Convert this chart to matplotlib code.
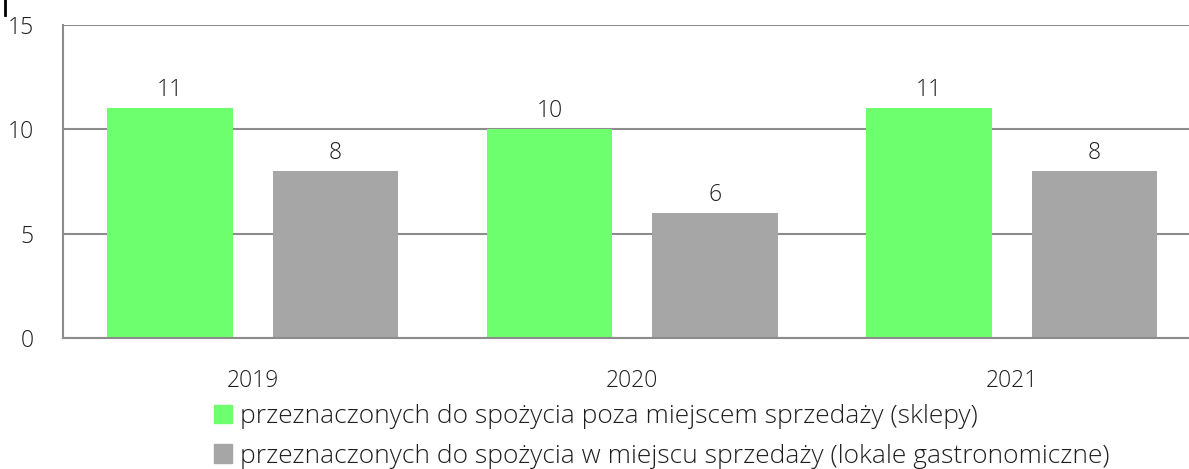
import matplotlib.pyplot as plt
import numpy as np
from matplotlib.patches import Patch
from matplotlib.lines import Line2D

plt.rcParams["font.family"] = ["Open Sans", "DejaVu Sans"]
plt.rcParams["font.weight"] = "light"

years = ["2019", "2020", "2021"]
shops = [11, 10, 11]
gastro = [8, 6, 8]
labels = [
    "przeznaczonych do spożycia poza miejscem sprzedaży (sklepy)",
    "przeznaczonych do spożycia w miejscu sprzedaży (lokale gastronomiczne)",
]

green = "#6EFF6E"
gray = "#A6A6A6"
text = "#1F1F1F"

W, H = 1189, 469
fig = plt.figure(figsize=(W / 100, H / 100), dpi=100)
# axes extend past the right edge of the figure, like the original crop
ax = fig.add_axes([63 / W, 1 - 338 / H, 1138.5 / W, 313 / H])

x = np.arange(len(years))
bw = 0.33
off = 0.218
b1 = ax.bar(x - off, shops, bw, color=green, zorder=2)
b2 = ax.bar(x + off, gastro, bw, color=gray, zorder=2)

for bars, vals in ((b1, shops), (b2, gastro)):
    for r, v in zip(bars, vals):
        ax.text(r.get_x() + r.get_width() / 2, v + 0.3, str(v),
                ha="center", va="bottom", fontsize=16.5, color=text)

ax.set_xlim(-0.5, 2.5)
ax.set_ylim(0, 15)
ax.set_yticks([0, 5, 10, 15])
ax.set_xticks(x)
ax.set_xticklabels(years)
ax.yaxis.grid(True, color="#8C8C8C", linewidth=1.5, zorder=0)
ax.set_axisbelow(True)
for s in ("top", "right"):
    ax.spines[s].set_visible(False)
for s in ("left", "bottom"):
    ax.spines[s].set_color("#8C8C8C")
    ax.spines[s].set_linewidth(1.5)
ax.tick_params(axis="both", length=0, labelsize=16.5, colors=text)
ax.tick_params(axis="y", pad=21)
ax.tick_params(axis="x", pad=22)

handles = [Patch(color=green), Patch(color=gray)]
fig.legend(handles, labels, loc="upper left", bbox_to_anchor=(214 / W, 1 - 404 / H),
           frameon=False, fontsize=19, handlelength=0.7, handleheight=0.7,
           handletextpad=0.3, labelspacing=0.55, labelcolor=text,
           borderaxespad=0, borderpad=0)

fig.add_artist(Line2D([5 / W, 5 / W], [1, 1 - 15 / H], color="black", linewidth=2))

fig.savefig("out.png", dpi=100)
